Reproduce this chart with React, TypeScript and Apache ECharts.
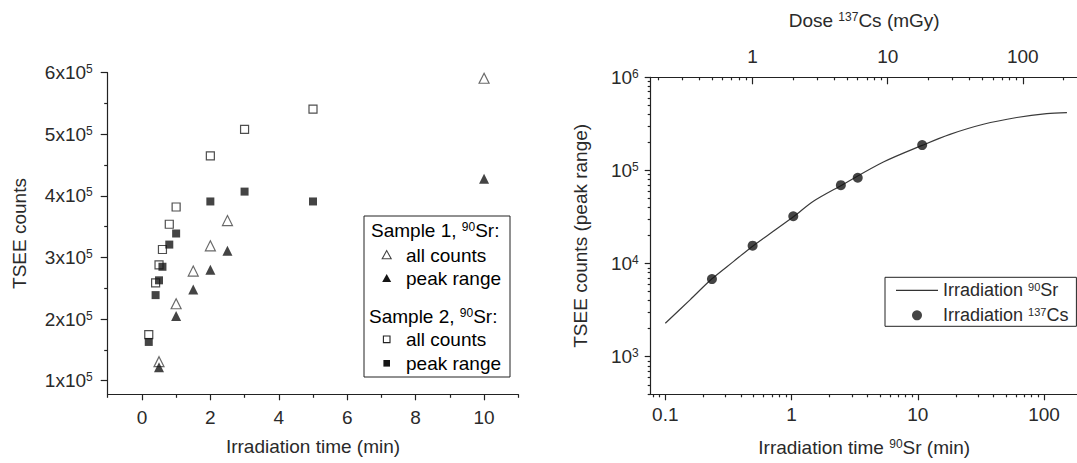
import React, { useEffect, useRef } from "react";
import * as echarts from "echarts";

// ---- Left panel data (TSEE counts vs irradiation time, 90Sr) ----
const timeSample1 = [0.5, 1, 1.5, 2, 2.5, 10];
const sample1AllCounts = [131000, 225000, 278000, 319000, 360000, 591000];
const sample1PeakRange = [122000, 205000, 248000, 280000, 311000, 428000];
const timeSample2 = [0.2, 0.4, 0.5, 0.6, 0.8, 1, 2, 3, 5];
const sample2AllCounts = [175000, 259000, 288000, 313000, 354000, 382000, 465000, 508000, 541000];
const sample2PeakRange = [163000, 239000, 263000, 285000, 321000, 339000, 391000, 407000, 391000];

const leftXMajor = [0, 2, 4, 6, 8, 10];
const leftXMinor = [-1, 1, 3, 5, 7, 9, 11];
const leftYMajor = [100000, 200000, 300000, 400000, 500000, 600000];
const leftYMinor = [150000, 250000, 350000, 450000, 550000];

// ---- Right panel data (calibration curve) ----
const srTime = [0.1, 0.157, 0.233, 0.346, 0.498, 0.717, 1.047, 1.49, 2.5, 5.34, 10.96, 18.0, 33.1, 60.9, 105, 152];
const srCounts = [2290, 4080, 6820, 10500, 15560, 22200, 32200, 46700, 69500, 123000, 187000, 244000, 313000, 370000, 408000, 418000];
const csDose = [0.5, 1, 2, 4.5, 6, 18];
const csCounts = [6820, 15560, 32200, 69500, 83400, 187000];

const timeMajor = [0.1, 1, 10, 100];
const timeMinor = [0.08, 0.09, 0.2, 0.3, 0.4, 0.5, 0.6, 0.7, 0.8, 0.9, 2, 3, 4, 5, 6, 7, 8, 9, 20, 30, 40, 50, 60, 70, 80, 90];
const doseMajor = [1, 10, 100];
const doseMinor = [0.2, 0.3, 0.4, 0.5, 0.6, 0.7, 0.8, 0.9, 2, 3, 4, 5, 6, 7, 8, 9, 20, 30, 40, 50, 60, 70, 80, 90, 200];
const countsMajor = [1000, 10000, 100000, 1000000];
const countsMinor = [400, 500, 600, 700, 800, 900, 2000, 3000, 4000, 5000, 6000, 7000, 8000, 9000, 20000, 30000, 40000, 50000, 60000, 70000, 80000, 90000, 200000, 300000, 400000, 500000, 600000, 700000, 800000, 900000];

const FONT = "'Liberation Sans', Arial, Helvetica, sans-serif";
const TXT = "#2a2a2a";
const LINE = "#222";

const zip = (xs: number[], ys: number[]) => xs.map((x, i) => [x, ys[i]]);

const rich = (size: number, sup: number) => ({
  b: { fontSize: size, fontFamily: FONT, color: TXT },
  s: { fontSize: sup, fontFamily: FONT, color: TXT, verticalAlign: "top" },
});

export default function App() {
  const ref = useRef<HTMLDivElement>(null);
  useEffect(() => {
    if (!ref.current) return;
    const chart = echarts.init(ref.current, undefined, { renderer: "svg" });

    const axisLineStyle = { show: true, onZero: false, lineStyle: { color: LINE, width: 1.2 } };
    const minorAxis = (extra: any) => ({
      axisLine: { show: false, onZero: false },
      axisLabel: { show: false },
      splitLine: { show: false },
      ...extra,
    });

    const legendItems = [
      { text: "{b|Sample 1, }{s|90}{b|Sr:}", x: 371, y: 230.7 },
      { text: "{b|all counts}", x: 406, y: 255 },
      { text: "{b|peak range}", x: 406, y: 278.3 },
      { text: "{b|Sample 2, }{s|90}{b|Sr:}", x: 369, y: 316.7 },
      { text: "{b|all counts}", x: 406, y: 339.3 },
      { text: "{b|peak range}", x: 406, y: 363.3 },
    ];

    const option: any = {
      animation: false,
      backgroundColor: "#fff",
      textStyle: { fontFamily: FONT },
      grid: [
        { left: 107.7, top: 72.7, width: 410.6, height: 321.6, outerBoundsMode: "none", containLabel: false },
        { left: 650.7, top: 77.3, width: 427, height: 317, outerBoundsMode: "none", containLabel: false },
      ],
      xAxis: [
        {
          type: "log", gridIndex: 1, position: "bottom", min: 0.0766, max: 185,
          axisLine: axisLineStyle,
          axisTick: { show: true, inside: false, length: 6, customValues: timeMajor, lineStyle: { color: LINE, width: 1.2 } },
          axisLabel: { show: true, customValues: timeMajor, margin: 11, formatter: (v: number) => `{b|${v}}`, rich: rich(19, 12) },
          splitLine: { show: false },
          name: "{b|Irradiation time }{s|90}{b|Sr (min)}", nameLocation: "middle", nameGap: 44, nameMoveOverlap: false,
          nameTextStyle: { rich: rich(19, 12) },
        },
        minorAxis({
          type: "log", gridIndex: 1, position: "bottom", min: 0.0766, max: 185,
          axisTick: { show: true, inside: false, length: 3, customValues: timeMinor, lineStyle: { color: LINE, width: 1.2 } },
        }),
        {
          type: "log", gridIndex: 1, position: "top", min: 0.176, max: 255,
          axisLine: axisLineStyle,
          axisTick: { show: true, inside: true, length: 7, customValues: doseMajor, lineStyle: { color: LINE, width: 1.2 } },
          axisLabel: { show: true, customValues: doseMajor, margin: 11, formatter: (v: number) => `{b|${v}}`, rich: rich(19, 12) },
          splitLine: { show: false },
          name: "{b|Dose }{s|137}{b|Cs (mGy)}", nameLocation: "middle", nameGap: 47, nameMoveOverlap: false,
          nameTextStyle: { rich: rich(19, 12) },
        },
        minorAxis({
          type: "log", gridIndex: 1, position: "top", min: 0.176, max: 255,
          axisTick: { show: true, inside: true, length: 3, customValues: doseMinor, lineStyle: { color: LINE, width: 1.2 } },
        }),
        {
          type: "value", gridIndex: 0, position: "bottom", min: -1, max: 11,
          axisLine: axisLineStyle,
          axisTick: { show: true, inside: false, length: 6, customValues: leftXMajor, lineStyle: { color: LINE, width: 1.2 } },
          axisLabel: { show: true, customValues: leftXMajor, margin: 14, formatter: (v: number) => `{b|${v}}`, rich: rich(19, 12) },
          splitLine: { show: false },
          name: "{b|Irradiation time (min)}", nameLocation: "middle", nameGap: 43, nameMoveOverlap: false,
          nameTextStyle: { rich: rich(19, 12) },
        },
        minorAxis({
          type: "value", gridIndex: 0, position: "bottom", min: -1, max: 11,
          axisTick: { show: true, inside: false, length: 3.5, customValues: leftXMinor, lineStyle: { color: LINE, width: 1.2 } },
        }),
      ],
      yAxis: [
        {
          type: "log", gridIndex: 1, position: "left", min: 395, max: 1000000,
          axisLine: axisLineStyle,
          axisTick: { show: true, inside: false, length: 6, customValues: countsMajor, lineStyle: { color: LINE, width: 1.2 } },
          axisLabel: {
            show: true, customValues: countsMajor, margin: 12,
            formatter: (v: number) => `{b|10}{s|${Math.round(Math.log10(v))}}`, rich: rich(19, 12),
          },
          splitLine: { show: false },
          name: "{b|TSEE counts (peak range)}", nameLocation: "middle", nameGap: 61, nameMoveOverlap: false,
          nameTextStyle: { rich: rich(19, 12) },
        },
        minorAxis({
          type: "log", gridIndex: 1, position: "left", min: 395, max: 1000000,
          axisTick: { show: true, inside: false, length: 3, customValues: countsMinor, lineStyle: { color: LINE, width: 1.2 } },
        }),
        {
          type: "value", gridIndex: 0, position: "left", min: 78000, max: 600000,
          axisLine: axisLineStyle,
          axisTick: { show: true, inside: false, length: 7, customValues: leftYMajor, lineStyle: { color: LINE, width: 1.2 } },
          axisLabel: {
            show: true, customValues: leftYMajor, margin: 15,
            formatter: (v: number) => `{b|${Math.round(v / 100000)}x10}{s|5}`, rich: rich(19, 12),
          },
          splitLine: { show: false },
          name: "{b|TSEE counts}", nameLocation: "middle", nameGap: 79, nameMoveOverlap: false,
          nameTextStyle: { rich: rich(19, 12) },
        },
        minorAxis({
          type: "value", gridIndex: 0, position: "left", min: 78000, max: 600000,
          axisTick: { show: true, inside: false, length: 3.5, customValues: leftYMinor, lineStyle: { color: LINE, width: 1.2 } },
        }),
      ],
      legend: {
        show: true,
        orient: "vertical",
        left: 885,
        top: 277.3,
        backgroundColor: "#fff",
        borderColor: LINE,
        borderWidth: 1,
        borderRadius: 0,
        padding: [4, 8, 2, 11],
        itemWidth: 42,
        itemHeight: 10,
        itemGap: 7,
        data: [
          { name: "Irradiation 90Sr", icon: "path://M0,0L42,0L42,1.3L0,1.3Z", itemStyle: { color: "#333" } },
          { name: "Irradiation 137Cs", icon: "circle" },
        ],
        formatter: (n: string) => (n.indexOf("137") >= 0 ? "{b|Irradiation }{s|137}{b|Cs}" : "{b|Irradiation }{s|90}{b|Sr}"),
        textStyle: { fontSize: 18, fontFamily: FONT, color: TXT, rich: rich(18, 11) },
      },
      series: [
        {
          name: "Irradiation 90Sr", type: "line", xAxisIndex: 0, yAxisIndex: 0,
          data: zip(srTime, srCounts), symbol: "none", showSymbol: false, smooth: 0.3,
          lineStyle: { color: "#3a3a3a", width: 1.2 }, itemStyle: { color: "#3a3a3a" },
        },
        {
          name: "Irradiation 137Cs", type: "scatter", xAxisIndex: 2, yAxisIndex: 0,
          data: zip(csDose, csCounts), symbol: "circle", symbolSize: 10,
          itemStyle: { color: "#151515" }, z: 5,
        },
        {
          name: "Sample 1 all counts", type: "scatter", xAxisIndex: 4, yAxisIndex: 2,
          data: zip(timeSample1, sample1AllCounts), symbol: "triangle", symbolSize: 10,
          itemStyle: { color: "#fff", borderColor: "#444", borderWidth: 1.2 },
        },
        {
          name: "Sample 2 all counts", type: "scatter", xAxisIndex: 4, yAxisIndex: 2,
          data: zip(timeSample2, sample2AllCounts), symbol: "rect", symbolSize: 8,
          itemStyle: { color: "#fff", borderColor: "#222", borderWidth: 1.2 },
        },
        {
          name: "Sample 1 peak range", type: "scatter", xAxisIndex: 4, yAxisIndex: 2,
          data: zip(timeSample1, sample1PeakRange), symbol: "triangle", symbolSize: 10,
          itemStyle: { color: "#151515" },
        },
        {
          name: "Sample 2 peak range", type: "scatter", xAxisIndex: 4, yAxisIndex: 2,
          data: zip(timeSample2, sample2PeakRange), symbol: "rect", symbolSize: 8,
          itemStyle: { color: "#151515" },
        },
      ],
      graphic: [
        {
          type: "rect", shape: { x: 364, y: 216, width: 146, height: 161 },
          style: { fill: "#fff", stroke: LINE, lineWidth: 1 }, z: 50,
        },
        ...legendItems.map((t) => ({
          type: "text", x: t.x, y: t.y, z: 51,
          style: { text: t.text, rich: rich(19, 12), verticalAlign: "middle", align: "left" },
        })),
        {
          type: "polygon", z: 51,
          shape: { points: [[386.7, 250.6], [382.2, 258.8], [391.2, 258.8]] },
          style: { fill: "#fff", stroke: "#444", lineWidth: 1.1 },
        },
        {
          type: "polygon", z: 51,
          shape: { points: [[386.7, 273.9], [382.2, 282.1], [391.2, 282.1]] },
          style: { fill: "#151515" },
        },
        {
          type: "rect", z: 51, shape: { x: 383.4, y: 336, width: 6.6, height: 6.6 },
          style: { fill: "#fff", stroke: "#222", lineWidth: 1.1 },
        },
        {
          type: "rect", z: 51, shape: { x: 383.4, y: 360, width: 6.6, height: 6.6 },
          style: { fill: "#151515" },
        },
      ],
    };

    chart.setOption(option);
    return () => chart.dispose();
  }, []);

  return (
    <div
      ref={ref}
      style={{ position: "absolute", left: 0, top: 0, width: 1077, height: 463, background: "#fff" }}
    />
  );
}
